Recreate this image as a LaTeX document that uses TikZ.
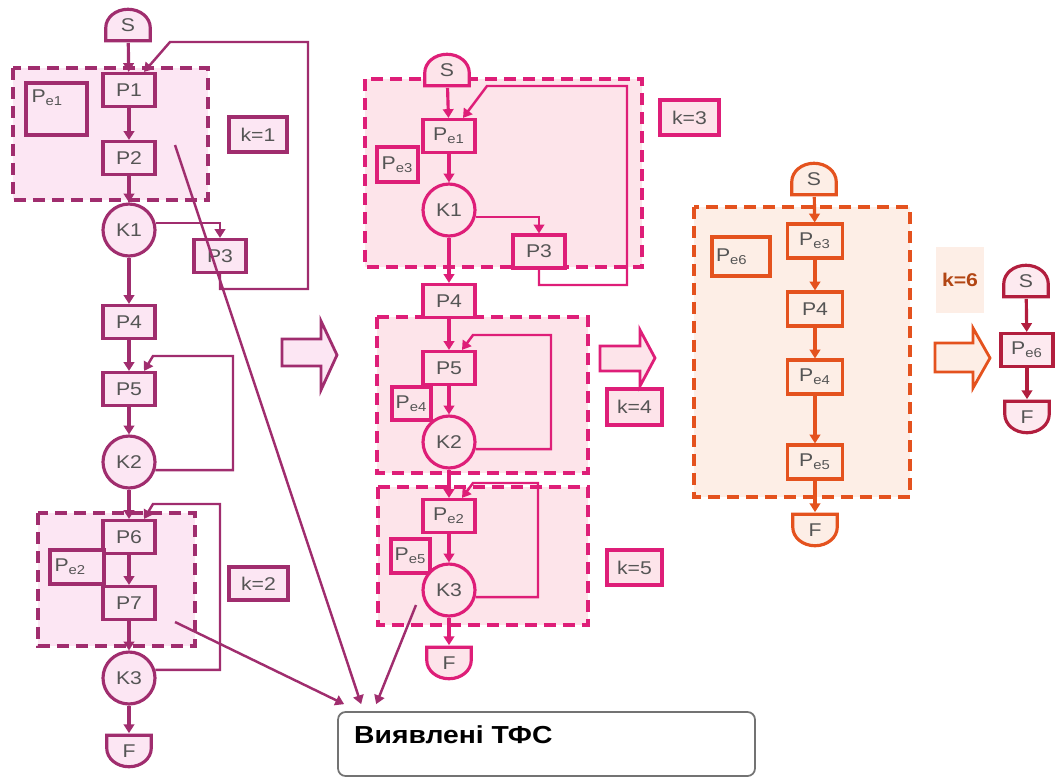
\documentclass[tikz,border=0pt]{standalone}
\usepackage{fontspec}
\setmainfont{Liberation Sans}[FakeStretch=1.15]
\usepackage{tikz}
\usetikzlibrary{arrows.meta,calc}
\definecolor{lcol}{RGB}{160,45,110}
\definecolor{lfill}{RGB}{252,230,243}
\definecolor{mcol}{RGB}{222,30,120}
\definecolor{mfill}{RGB}{253,228,234}
\definecolor{ocol}{RGB}{228,82,30}
\definecolor{ofill}{RGB}{253,238,230}
\definecolor{rcol}{RGB}{178,30,62}
\definecolor{rfill}{RGB}{253,234,240}
\definecolor{ktxt}{RGB}{178,70,20}
\definecolor{txt}{RGB}{85,85,85}

\begin{document}
\begin{tikzpicture}[x=0.02cm, y=-0.02cm, >={Triangle[length=5pt,width=6pt]}, font=\fontsize{10.5}{12}\selectfont]
		\tikzset{pbox/.style 2 args={draw=#1, fill=#2, line width=1.8pt, minimum width=1.04cm, minimum height=0.66cm, inner sep=0pt, text=txt}}
		\tikzset{kcirc/.style 2 args={circle, draw=#1, fill=#2, line width=1.8pt, minimum size=1.04cm, inner sep=0pt, text=txt}}
		\tikzset{scap/.style 2 args={minimum width=0.96cm, minimum height=0.7cm, inner sep=0pt, text=txt,
			path picture={\filldraw[draw=#1, fill=#2, line width=1.8pt] ([shift={(0.035cm,0.035cm)}]path picture bounding box.south west) -- ++(0cm,0.26cm) arc[start angle=180, end angle=0, x radius=0.445cm, y radius=0.37cm] -- ([shift={(-0.035cm,0.035cm)}]path picture bounding box.south east) -- cycle;}}}
		\tikzset{fcap/.style 2 args={minimum width=0.96cm, minimum height=0.7cm, inner sep=0pt, text=txt,
			path picture={\filldraw[draw=#1, fill=#2, line width=1.8pt] ([shift={(0.035cm,-0.035cm)}]path picture bounding box.north west) -- ++(0cm,-0.26cm) arc[start angle=180, end angle=360, x radius=0.445cm, y radius=0.37cm] -- ([shift={(-0.035cm,-0.035cm)}]path picture bounding box.north east) -- cycle;}}}
		\tikzset{grp/.style 2 args={draw=#1, fill=#2, line width=2.2pt, dash pattern=on 0.24cm off 0.14cm}}
		\tikzset{flow/.style={->, draw=#1, line width=1.8pt}}
		\tikzset{back/.style={->, draw=#1, line width=1.4pt}}
		\useasboundingbox (0,0) rectangle (1057,778);
		% dashed groups
		\draw[grp={lcol}{lfill}] (13,68) rectangle (208,200);
		\draw[grp={lcol}{lfill}] (38,513) rectangle (195,646);
		\draw[grp={mcol}{mfill}] (365,79) rectangle (642,267);
		\draw[grp={mcol}{mfill}] (377,317) rectangle (588,473);
		\draw[grp={mcol}{mfill}] (378,487) rectangle (588,625);
		\draw[grp={ocol}{ofill}] (694,207) rectangle (910,497);
		% first scheme
		\node[scap={lcol}{lfill}] (s1) at (128,25) {S};
		\node[pbox={lcol}{lfill}] (p1) at (129,90) {P1};
		\node[pbox={lcol}{lfill}] (p2) at (129,158) {P2};
		\node[kcirc={lcol}{lfill}] (k1) at (129,230) {K1};
		\node[pbox={lcol}{lfill}] (p3) at (220,256) {P3};
		\node[pbox={lcol}{lfill}] (p4) at (129,322) {P4};
		\node[pbox={lcol}{lfill}] (p5) at (129,389) {P5};
		\node[kcirc={lcol}{lfill}] (k2) at (129,462) {K2};
		\node[pbox={lcol}{lfill}] (p6) at (129,537) {P6};
		\node[pbox={lcol}{lfill}] (p7) at (129,603) {P7};
		\node[kcirc={lcol}{lfill}] (k3) at (129,678) {K3};
		\node[fcap={lcol}{lfill}] (f1) at (129,751) {F};
		\node[pbox={lcol}{lfill}, minimum width=1.22cm, minimum height=1.04cm, text width=1.0cm, align=left, text depth=0.5cm] (pe1) at (56.5,109) {P\textsubscript{e1}};
		\node[pbox={lcol}{lfill}, minimum width=1.08cm, minimum height=0.68cm, text width=0.9cm, align=left] (pe2) at (77,567) {P\textsubscript{e2}};
		\node[pbox={lcol}{lfill}, minimum width=1.16cm, minimum height=0.7cm] (kb1) at (258,134.5) {k=1};
		\node[pbox={lcol}{lfill}, minimum width=1.18cm, minimum height=0.66cm] (kb2) at (258.5,583.5) {k=2};
		\draw[flow=lcol] (s1) -- (p1);
		\draw[flow=lcol] (p1) -- (p2);
		\draw[flow=lcol] (p2) -- (k1);
		\draw[flow=lcol] (k1) -- (p4);
		\draw[flow=lcol] (p4) -- (p5);
		\draw[flow=lcol] (p5) -- (k2);
		\draw[flow=lcol] (k2) -- (p6);
		\draw[flow=lcol] (p6) -- (p7);
		\draw[flow=lcol] (p7) -- (k3);
		\draw[flow=lcol] (k3) -- (f1);
		\draw[back=lcol] (k1.15) -| (p3.north);
		\draw[back=lcol] (p3.south) |- (308,289) -- (308,42) -- (170,42) -- ([xshift=0.3cm]p1.north);
		\draw[back=lcol] (k2.-17) -| (233,356) -- (153,356) -- ([xshift=0.3cm]p5.north);
		\draw[back=lcol] (k3.17) -| (220,504) -- (153,504) -- ([xshift=0.3cm]p6.north);
		\draw[line width=1.6pt, draw=lcol, fill=lfill] (282,339) -- (321,339) -- (321,321) -- (337,355) -- (321,390) -- (321,366) -- (282,366) -- cycle;
		% second scheme
		\node[scap={mcol}{mfill}] (s2) at (447,70) {S};
		\node[pbox={mcol}{mfill}] (pe1m) at (449,136) {P\textsubscript{e1}};
		\node[pbox={mcol}{mfill}, minimum width=0.82cm, minimum height=0.7cm] (pe3m) at (397.5,164.5) {P\textsubscript{e3}};
		\node[kcirc={mcol}{mfill}] (k1m) at (449,210) {K1};
		\node[pbox={mcol}{mfill}] (p3m) at (539,251.5) {P3};
		\node[pbox={mcol}{mfill}] (p4m) at (449,301) {P4};
		\node[pbox={mcol}{mfill}] (p5m) at (449,368) {P5};
		\node[pbox={mcol}{mfill}, minimum width=0.78cm, minimum height=0.66cm] (pe4m) at (411.5,403.5) {P\textsubscript{e4}};
		\node[kcirc={mcol}{mfill}] (k2m) at (449,442) {K2};
		\node[pbox={mcol}{mfill}] (pe2m) at (449,516) {P\textsubscript{e2}};
		\node[pbox={mcol}{mfill}, minimum width=0.78cm, minimum height=0.68cm] (pe5m) at (410.5,556) {P\textsubscript{e5}};
		\node[kcirc={mcol}{mfill}] (k3m) at (449,590) {K3};
		\node[fcap={mcol}{mfill}] (f2) at (449,663) {F};
		\node[pbox={mcol}{mfill}, minimum width=1.18cm, minimum height=0.7cm] (kb3) at (689.5,117.5) {k=3};
		\node[pbox={mcol}{mfill}, minimum width=1.1cm, minimum height=0.72cm] (kb4) at (634.5,407) {k=4};
		\node[pbox={mcol}{mfill}, minimum width=1.1cm, minimum height=0.7cm] (kb5) at (634.5,567.5) {k=5};
		\draw[flow=mcol] (s2) -- (pe1m);
		\draw[flow=mcol] (pe1m) -- (k1m);
		\draw[flow=mcol] (k1m) -- (p4m);
		\draw[flow=mcol] (p4m) -- (p5m);
		\draw[flow=mcol] (p5m) -- (k2m);
		\draw[flow=mcol] (k2m) -- (pe2m);
		\draw[flow=mcol] (pe2m) -- (k3m);
		\draw[flow=mcol] (k3m) -- (f2);
		\draw[back=mcol] (k1m.-15) -| (p3m.north);
		\draw[back=mcol] (p3m.south) |- (627,285) -- (627,86) -- (487,86) -- ([xshift=0.28cm]pe1m.north);
		\draw[back=mcol] (k2m.-15) -| (551,335) -- (473,335) -- ([xshift=0.26cm]p5m.north);
		\draw[back=mcol] (k3m.-15) -| (538,483) -- (473,483) -- ([xshift=0.26cm]pe2m.north);
		\draw[line width=1.6pt, draw=mcol, fill=mfill] (600,346) -- (640,346) -- (640,330) -- (655,358) -- (640,386) -- (640,371) -- (600,371) -- cycle;
		% third scheme
		\node[scap={ocol}{ofill}] (s3) at (814,179) {S};
		\node[pbox={ocol}{ofill}, minimum width=1.1cm, minimum height=0.68cm] (pe3o) at (815,241) {P\textsubscript{e3}};
		\node[pbox={ocol}{ofill}, minimum width=1.1cm, minimum height=0.68cm] (p4o) at (815,309) {P4};
		\node[pbox={ocol}{ofill}, minimum width=1.1cm, minimum height=0.68cm] (pe4o) at (815,377) {P\textsubscript{e4}};
		\node[pbox={ocol}{ofill}, minimum width=1.1cm, minimum height=0.68cm] (pe5o) at (815,462) {P\textsubscript{e5}};
		\node[fcap={ocol}{ofill}] (f3) at (815,530) {F};
		\node[pbox={ocol}{ofill}, minimum width=1.16cm, minimum height=0.78cm, text width=1.0cm, align=left] (pe6o) at (741,256.5) {P\textsubscript{e6}};
		\node[fill=ofill, minimum width=0.92cm, minimum height=1.32cm, text=ktxt, font=\fontsize{10.5}{12}\selectfont\bfseries] (kb6) at (960,280) {k=6};
		\draw[flow=ocol] (s3) -- (pe3o);
		\draw[flow=ocol] (pe3o) -- (p4o);
		\draw[flow=ocol] (p4o) -- (pe4o);
		\draw[flow=ocol] (pe4o) -- (pe5o);
		\draw[flow=ocol] (pe5o) -- (f3);
		\draw[line width=1.6pt, draw=ocol, fill=ofill] (935,343) -- (973,343) -- (973,328) -- (990,358) -- (973,388) -- (973,372) -- (935,372) -- cycle;
		% result
		\node[scap={rcol}{rfill}] (s4) at (1026,281) {S};
		\node[pbox={rcol}{rfill}] (pe6r) at (1027,350) {P\textsubscript{e6}};
		\node[fcap={rcol}{rfill}] (f4) at (1027,417) {F};
		\draw[flow=rcol] (s4) -- (pe6r);
		\draw[flow=rcol] (pe6r) -- (f4);
		% found fragments
		\node[draw=black!55, rounded corners=0.15cm, line width=1pt, minimum width=8.34cm, minimum height=1.28cm] (res) at (546.5,744) {};
		\node[anchor=base west, font=\fontsize{14}{16}\selectfont\bfseries, text=black] (restxt) at (348,743) {Виявлені ТФС};
		\coordinate (d1) at (175,145);
		\coordinate (d2) at (175,622);
		\coordinate (d3) at (416,605);
		\draw[back=lcol] (d2) -- ([shift={(0.14cm,0.14cm)}]res.north west);
		\draw[back=lcol] (d1) -- ([shift={(0.48cm,0.14cm)}]res.north west);
		\draw[back=lcol] (d3) -- ([shift={(0.78cm,0.14cm)}]res.north west);
	\end{tikzpicture}
\end{document}
